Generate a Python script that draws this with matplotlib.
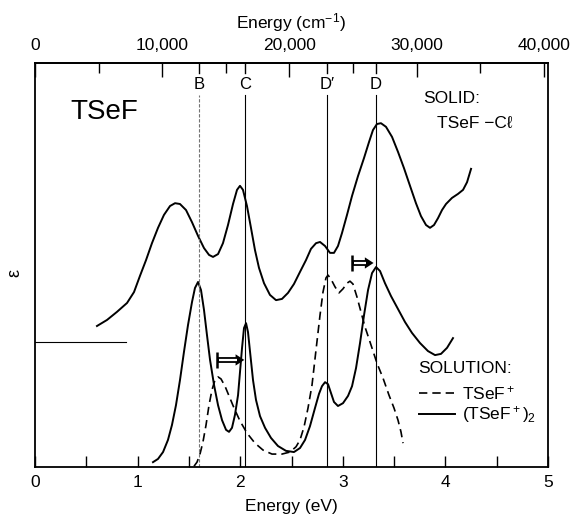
import numpy as np
import matplotlib
matplotlib.use("Agg")
import matplotlib.pyplot as plt
from matplotlib.ticker import MultipleLocator, FuncFormatter

plt.rcParams['font.family'] = ['Liberation Sans', 'DejaVu Sans']
plt.rcParams['mathtext.fontset'] = 'custom'
plt.rcParams['mathtext.rm'] = 'Liberation Sans'
plt.rcParams['mathtext.it'] = 'Liberation Sans'

# solid film TSeF-Cl (eV, arbitrary epsilon)
solid_x = [0.604, 0.702, 0.799, 0.897, 0.965, 1.023, 1.082, 1.140, 1.199, 1.257,
           1.316, 1.365, 1.413, 1.472, 1.530, 1.589, 1.647, 1.696, 1.735, 1.784,
           1.832, 1.881, 1.930, 1.969, 1.998, 2.027, 2.066, 2.105, 2.144, 2.183,
           2.232, 2.290, 2.349, 2.407, 2.466, 2.524, 2.583, 2.641, 2.690, 2.739,
           2.778, 2.827, 2.875, 2.914, 2.953, 2.992, 3.041, 3.090, 3.148, 3.207,
           3.255, 3.294, 3.333, 3.372, 3.421, 3.480, 3.538, 3.596, 3.655, 3.713,
           3.762, 3.811, 3.850, 3.889, 3.928, 3.967, 4.006, 4.064, 4.123, 4.172,
           4.211, 4.250]
solid_y = [3.49, 3.64, 3.84, 4.06, 4.33, 4.73, 5.12, 5.54, 5.92, 6.24,
           6.46, 6.53, 6.51, 6.36, 6.06, 5.72, 5.42, 5.25, 5.20, 5.27,
           5.54, 5.99, 6.51, 6.86, 6.96, 6.86, 6.46, 5.92, 5.37, 4.93,
           4.55, 4.26, 4.13, 4.16, 4.31, 4.53, 4.83, 5.12, 5.40, 5.54,
           5.57, 5.47, 5.30, 5.30, 5.47, 5.79, 6.24, 6.71, 7.20, 7.65,
           8.04, 8.34, 8.49, 8.51, 8.42, 8.17, 7.80, 7.40, 6.96, 6.53,
           6.21, 5.99, 5.92, 5.99, 6.16, 6.36, 6.51, 6.66, 6.76, 6.86,
           7.05, 7.38]

# solution dimer (TSeF+)2
dimer_x = [1.150, 1.199, 1.248, 1.296, 1.335, 1.374, 1.413, 1.452, 1.491, 1.530,
           1.559, 1.589, 1.618, 1.647, 1.676, 1.706, 1.745, 1.784, 1.823, 1.862,
           1.891, 1.920, 1.949, 1.979, 1.998, 2.018, 2.037, 2.057, 2.076, 2.096,
           2.125, 2.154, 2.193, 2.242, 2.300, 2.368, 2.446, 2.524, 2.583, 2.632,
           2.680, 2.729, 2.768, 2.797, 2.827, 2.856, 2.885, 2.914, 2.953, 3.002,
           3.051, 3.090, 3.129, 3.168, 3.207, 3.246, 3.285, 3.324, 3.363, 3.411,
           3.470, 3.538, 3.606, 3.674, 3.752, 3.830, 3.899, 3.957, 4.016, 4.074]
dimer_y = [0.12, 0.20, 0.37, 0.67, 1.04, 1.53, 2.15, 2.85, 3.51, 4.08,
           4.43, 4.58, 4.38, 3.89, 3.27, 2.65, 2.03, 1.53, 1.16, 0.92,
           0.87, 0.97, 1.29, 1.78, 2.35, 2.95, 3.44, 3.56, 3.34, 2.85,
           2.15, 1.66, 1.26, 0.97, 0.72, 0.52, 0.40, 0.37, 0.47, 0.67,
           1.01, 1.46, 1.81, 2.00, 2.10, 2.05, 1.83, 1.61, 1.51, 1.58,
           1.76, 2.00, 2.45, 3.07, 3.76, 4.38, 4.80, 4.95, 4.85, 4.55,
           4.23, 3.91, 3.59, 3.32, 3.07, 2.87, 2.77, 2.80, 2.95, 3.19]

# solution monomer TSeF+
mono_x = [1.550, 1.579, 1.608, 1.637, 1.667, 1.696, 1.725, 1.754, 1.784, 1.813,
          1.852, 1.891, 1.940, 1.998, 2.066, 2.144, 2.222, 2.310, 2.407, 2.485,
          2.544, 2.583, 2.622, 2.661, 2.700, 2.739, 2.778, 2.807, 2.836, 2.856,
          2.885, 2.924, 2.963, 3.002, 3.041, 3.070, 3.099, 3.138, 3.177, 3.216,
          3.275, 3.333, 3.392, 3.450, 3.499, 3.538, 3.567, 3.587]
mono_y = [0.02, 0.12, 0.32, 0.62, 1.04, 1.53, 1.91, 2.15, 2.23, 2.18,
          2.00, 1.76, 1.46, 1.14, 0.84, 0.59, 0.42, 0.32, 0.32, 0.37,
          0.50, 0.67, 0.99, 1.46, 2.03, 2.90, 3.76, 4.33, 4.68, 4.75,
          4.65, 4.46, 4.31, 4.41, 4.55, 4.60, 4.53, 4.21, 3.84, 3.47,
          3.02, 2.57, 2.20, 1.78, 1.46, 1.16, 0.87, 0.59]

band_names = ['B', 'C', 'D\u2032', 'D']
band_ev = [1.598, 2.047, 2.846, 3.324]

baseline_y = 3.09
baseline_end = 0.89

cm_ticks = [0, 10000, 20000, 30000, 40000]
EV2CM = 8065.54

fig = plt.figure(figsize=(5.75, 5.14), dpi=100)
ax = fig.add_axes([35 / 575, 47 / 514, 513 / 575, 404 / 514])

ax.plot(solid_x, solid_y, color='k', lw=1.4, solid_joinstyle='round')
ax.plot(dimer_x, dimer_y, color='k', lw=1.4, solid_joinstyle='round')
ax.plot(mono_x, mono_y, color='k', lw=1.2, ls=(0, (5, 3)))
ax.plot([0, baseline_end], [baseline_y, baseline_y], color='k', lw=0.8)

for name, e in zip(band_names, band_ev):
    if name == 'B':
        ax.axvline(e, ymin=0, ymax=0.921, color='0.45', lw=0.8, ls=(0, (3, 1.5)))
    else:
        ax.axvline(e, ymin=0, ymax=0.921, color='k', lw=0.8)
    ax.axvline(e, ymin=0.975, ymax=1, color='k', lw=1.0)
    ax.text(e, 9.46, name, ha='center', va='center', fontsize=12)


def shift_arrow(x0, x1, y):
    hl = 0.085
    ax.plot([x0, x0], [y - 0.2, y + 0.2], color='k', lw=1.8, solid_capstyle='butt')
    ax.plot([x0, x1 - hl], [y, y], color='k', lw=4.2, solid_capstyle='butt')
    ax.plot([x0 + 0.02, x1 - hl + 0.01], [y, y], color='white', lw=1.6,
            solid_capstyle='butt')
    ax.fill([x1 - hl, x1, x1 - hl], [y - 0.14, y, y + 0.14], color='k', lw=0)


shift_arrow(1.774, 2.040, 2.65)
shift_arrow(3.09, 3.30, 5.05)

ax.text(0.34, 8.79, 'TSeF', fontsize=20, va='center', ha='left')
ax.text(3.78, 9.13, 'SOLID:', fontsize=12.5, va='center', ha='left')
ax.text(3.92, 8.51, 'TSeF \u2212C\u2113', fontsize=12.5, va='center', ha='left')
ax.text(3.73, 2.45, 'SOLUTION:', fontsize=12.5, va='center', ha='left')
ax.plot([3.743, 4.094], [1.83, 1.83], color='k', lw=1.2, ls=(0, (5, 3)))
ax.text(4.16, 1.83, 'TSeF$^+$', fontsize=12.5, va='center', ha='left')
ax.plot([3.743, 4.094], [1.31, 1.31], color='k', lw=1.4)
ax.text(4.16, 1.31, '(TSeF$^+$)$_2$', fontsize=12.5, va='center', ha='left')

ax.set_xlim(0, 5)
ax.set_ylim(0, 10)
ax.set_yticks([])
ax.xaxis.set_major_locator(MultipleLocator(1))
ax.xaxis.set_minor_locator(MultipleLocator(0.5))
ax.tick_params(axis='x', which='both', direction='in', length=8, width=1.0,
               labelsize=12.5, pad=6)
ax.set_xlabel('Energy (eV)', fontsize=12.5, labelpad=6)
fig.text(15 / 575, 1 - 273 / 514, '\u03b5', fontsize=13, rotation=90,
         ha='center', va='center')
for s in ax.spines.values():
    s.set_linewidth(1.3)

sec = ax.secondary_xaxis('top', functions=(lambda e: e * EV2CM, lambda c: c / EV2CM))
sec.set_xticks(cm_ticks)
sec.xaxis.set_minor_locator(MultipleLocator(5000))
sec.xaxis.set_major_formatter(FuncFormatter(lambda v, p: f'{v:,.0f}'))
sec.tick_params(axis='x', which='major', direction='in', length=10, width=1.0,
                labelsize=12.5, pad=7)
sec.tick_params(axis='x', which='minor', direction='in', length=7, width=1.0)
sec.spines['top'].set_linewidth(1.3)
sec.set_xlabel('Energy (cm$^{-1}$)', fontsize=12.5, labelpad=7)

fig.savefig('out.png', dpi=100)
